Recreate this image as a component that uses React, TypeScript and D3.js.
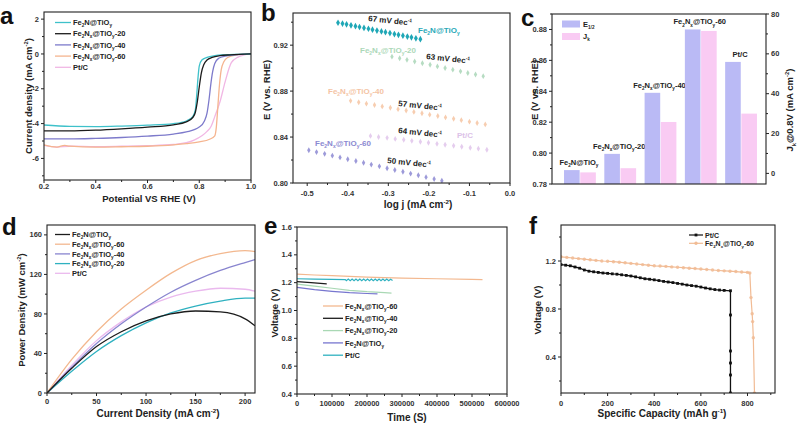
import React from "react";
import * as d3 from "d3";

const FONT = "Arial, 'Liberation Sans', Helvetica, sans-serif";

// ---------- panel a : LSV curves (potential V vs RHE, current density mA cm-2)
const lsvNames = ["Fe_2N@TiO_y", "Fe_2N_x@TiO_y-20", "Fe_2N_x@TiO_y-40", "Fe_2N_x@TiO_y-60", "Pt/C"];
const lsvColors = ["#3ec1ca", "#1c1c1c", "#7d7acb", "#f5b48f", "#f1b7e4"];
const lsvE_Fe2N = [0.2, 0.3, 0.4, 0.5, 0.6, 0.7, 0.75, 0.775, 0.785, 0.79, 0.795, 0.8, 0.81, 0.83, 0.86, 0.9, 0.95, 1.0];
const lsvJ_Fe2N = [-4.08, -4.16, -4.17, -4.14, -4.09, -4.0, -3.85, -3.6, -3.2, -2.4, -1.4, -0.7, -0.35, -0.2, -0.1, -0.05, -0.02, 0];
const lsvE_20 = [0.2, 0.3, 0.4, 0.5, 0.6, 0.7, 0.75, 0.775, 0.785, 0.792, 0.8, 0.808, 0.818, 0.83, 0.85, 0.88, 0.92, 1.0];
const lsvJ_20 = [-4.42, -4.42, -4.38, -4.3, -4.2, -4.07, -3.9, -3.65, -3.35, -2.8, -1.9, -1.1, -0.6, -0.35, -0.2, -0.1, -0.05, 0];
const lsvE_40 = [0.2, 0.3, 0.4, 0.5, 0.6, 0.7, 0.75, 0.8, 0.82, 0.83, 0.838, 0.845, 0.852, 0.86, 0.875, 0.9, 0.94, 1.0];
const lsvJ_40 = [-4.88, -4.88, -4.85, -4.8, -4.72, -4.6, -4.48, -4.2, -3.85, -3.4, -2.6, -1.7, -1.0, -0.55, -0.25, -0.12, -0.05, 0];
const lsvE_60 = [0.2, 0.25, 0.28, 0.3, 0.4, 0.5, 0.6, 0.7, 0.75, 0.8, 0.84, 0.86, 0.866, 0.872, 0.878, 0.885, 0.895, 0.91, 0.94, 1.0];
const lsvJ_60 = [-5.22, -5.35, -5.25, -5.3, -5.35, -5.33, -5.3, -5.22, -5.15, -5.05, -4.9, -4.7, -4.2, -3.0, -1.8, -0.9, -0.45, -0.2, -0.07, 0];
const lsvE_Pt = [0.2, 0.25, 0.3, 0.4, 0.5, 0.6, 0.7, 0.75, 0.78, 0.81, 0.83, 0.846, 0.86, 0.881, 0.9, 0.924, 0.95, 0.97, 1.0];
const lsvJ_Pt = [-5.25, -5.35, -5.3, -5.32, -5.3, -5.27, -5.2, -5.1, -4.95, -4.7, -4.45, -4.15, -3.6, -2.7, -1.6, -0.5, -0.18, -0.07, 0];

// ---------- panel b : Tafel points (log j, E)
const tafLogJ_Fe2N = [-0.424, -0.413, -0.403, -0.392, -0.381, -0.371, -0.36, -0.349, -0.339, -0.328, -0.317, -0.307, -0.296, -0.285, -0.275, -0.264, -0.253, -0.243, -0.232, -0.221];
const tafE_Fe2N = [0.9395, 0.9388, 0.9381, 0.9373, 0.9365, 0.9358, 0.935, 0.9343, 0.9335, 0.9327, 0.932, 0.9313, 0.9305, 0.9297, 0.929, 0.9283, 0.9275, 0.9268, 0.926, 0.9252];
const tafLogJ_20 = [-0.291, -0.272, -0.254, -0.235, -0.216, -0.197, -0.179, -0.16, -0.141, -0.122, -0.104, -0.085, -0.066];
const tafE_20 = [0.91, 0.9086, 0.9072, 0.9058, 0.9043, 0.9029, 0.9015, 0.9001, 0.8987, 0.8972, 0.8958, 0.8944, 0.893];
const tafLogJ_40 = [-0.393, -0.373, -0.354, -0.334, -0.315, -0.295, -0.276, -0.256, -0.237, -0.217, -0.198, -0.178, -0.159, -0.139, -0.12, -0.1, -0.081, -0.061];
const tafE_40 = [0.8715, 0.8703, 0.8691, 0.8679, 0.8667, 0.8655, 0.8643, 0.8631, 0.8619, 0.8607, 0.8595, 0.8583, 0.8571, 0.8559, 0.8547, 0.8534, 0.8522, 0.851];
const tafLogJ_Pt = [-0.344, -0.324, -0.303, -0.283, -0.262, -0.242, -0.221, -0.201, -0.18, -0.16, -0.139, -0.119, -0.098, -0.078, -0.057];
const tafE_Pt = [0.841, 0.8401, 0.8393, 0.8384, 0.8376, 0.8367, 0.8359, 0.835, 0.8341, 0.8333, 0.8324, 0.8316, 0.8307, 0.8299, 0.829];
const tafLogJ_60 = [-0.496, -0.477, -0.457, -0.438, -0.419, -0.4, -0.38, -0.361, -0.342, -0.322, -0.303, -0.284, -0.264, -0.245, -0.226, -0.207, -0.187, -0.168];
const tafE_60 = [0.8285, 0.8269, 0.8254, 0.8238, 0.8223, 0.8207, 0.8191, 0.8176, 0.816, 0.8145, 0.8129, 0.8113, 0.8098, 0.8082, 0.8067, 0.8051, 0.8035, 0.802];
const tafColors = ["#1fa7b6", "#b6dcc2", "#f7cdb0", "#e5cdee", "#9d9ad9"];

// ---------- panel c : bars
const barCats = ["Fe_2N@TiO_y", "Fe_2N_x@TiO_y-20", "Fe_2N_x@TiO_y-40", "Fe_2N_x@TiO_y-60", "Pt/C"];
const barE12 = [0.789, 0.7995, 0.839, 0.88, 0.859];
const barJk = [0.5, 2.6, 25.8, 71.5, 30];

// ---------- panel d : power density
const pdCurrent = [0, 25, 50, 75, 100, 125, 150, 175, 200, 210];
const pdNames = ["Fe_2N@TiO_y", "Fe_2N_x@TiO_y-60", "Fe_2N_x@TiO_y-40", "Fe_2N_x@TiO_y-20", "Pt/C"];
const pdColors = ["#1c1c1c", "#f3b88f", "#8985cf", "#2fb1c0", "#eab9ee"];
const pdFe2N = [0, 25, 47, 62, 73, 80, 83, 82, 75, 68];
const pd60 = [0, 34, 62, 85, 104, 121, 134, 141, 144, 143];
const pd40 = [0, 26, 50, 70, 87, 102, 114, 124, 132, 135];
const pd20 = [0, 22, 42, 58, 71, 81, 88, 93, 96, 96];
const pdPt = [0, 28, 53, 72, 87, 97, 103, 106, 105, 103];

// ---------- panel e : stability (time s, voltage V)
const stNames = ["Fe_2N_x@TiO_y-60", "Fe_2N_x@TiO_y-40", "Fe_2N_x@TiO_y-20", "Fe_2N@TiO_y", "Pt/C"];
const stColors = ["#f3b88f", "#1c1c1c", "#a9d8b4", "#7776cf", "#2fb1c0"];
const stT_60 = [0, 50000, 100000, 150000, 200000, 300000, 400000, 500000, 530000];
const stV_60 = [1.262, 1.255, 1.25, 1.245, 1.24, 1.233, 1.228, 1.223, 1.222];
const stT_40 = [0, 40000, 85000];
const stV_40 = [1.207, 1.2, 1.192];
const stT_20 = [0, 50000, 100000, 150000, 200000, 250000, 270000];
const stV_20 = [1.19, 1.175, 1.16, 1.145, 1.135, 1.128, 1.125];
const stT_Fe2N = [0, 50000, 100000, 150000, 200000, 230000];
const stV_Fe2N = [1.166, 1.15, 1.138, 1.128, 1.122, 1.12];
const stT_Pt = [0, 50000, 100000, 138000, 141000, 146500, 152000, 157500, 163000, 168500, 174000, 179500, 185000, 190500, 196000, 201500, 207000, 212500, 218000, 223500, 229000, 234500, 240000, 245500, 251000, 256500, 262000, 267500, 273000];
const stV_Pt = [1.228, 1.225, 1.224, 1.222, 1.214, 1.226, 1.214, 1.226, 1.214, 1.226, 1.214, 1.226, 1.214, 1.226, 1.214, 1.226, 1.214, 1.226, 1.214, 1.226, 1.214, 1.226, 1.214, 1.226, 1.214, 1.226, 1.214, 1.225, 1.216];

// ---------- panel f : discharge (capacity mAh g-1, voltage V)
const dcCap_Pt = [0, 20, 40, 60, 80, 100, 120, 140, 160, 180, 200, 220, 240, 260, 280, 300, 320, 340, 360, 380, 400, 420, 440, 460, 480, 500, 520, 540, 560, 580, 600, 620, 640, 660, 680, 700, 727, 727, 727, 727, 727, 727];
const dcV_Pt = [1.17, 1.165, 1.16, 1.15, 1.14, 1.125, 1.115, 1.11, 1.105, 1.1, 1.097, 1.093, 1.09, 1.085, 1.08, 1.075, 1.068, 1.06, 1.052, 1.048, 1.043, 1.037, 1.03, 1.025, 1.02, 1.013, 1.007, 1.0, 0.995, 0.99, 0.983, 0.975, 0.968, 0.962, 0.958, 0.955, 0.952, 0.75, 0.45, 0.35, 0.25, 0.1];
const dcCap_60 = [0, 25, 50, 75, 100, 125, 150, 175, 200, 225, 250, 275, 300, 325, 350, 375, 400, 425, 450, 475, 500, 525, 550, 575, 600, 625, 650, 675, 700, 725, 750, 775, 800, 810, 815, 820, 822, 825, 830];
const dcV_60 = [1.235, 1.23, 1.225, 1.22, 1.215, 1.21, 1.205, 1.2, 1.198, 1.194, 1.19, 1.185, 1.18, 1.175, 1.17, 1.165, 1.16, 1.158, 1.155, 1.151, 1.148, 1.144, 1.14, 1.137, 1.133, 1.129, 1.125, 1.121, 1.118, 1.115, 1.112, 1.108, 1.105, 1.1, 0.895, 0.76, 0.695, 0.56, 0.1];
const dcNames = ["Pt/C", "Fe_2N_x@TiO_y-60"];
const dcColors = ["#111111", "#f1bb94"];

const zip = (a: number[], b: number[]): [number, number][] => a.map((v, i) => [v, b[i]]);

// text with _x / _{..} subscripts and ^{..} superscripts
function rich(s: string, fs: number) {
  const segs: { t: string; k: number }[] = [];
  let buf = "";
  let i = 0;
  while (i < s.length) {
    const c = s[i];
    if ((c === "_" || c === "^") && i + 1 < s.length) {
      if (buf) segs.push({ t: buf, k: 0 });
      buf = "";
      let t: string;
      if (s[i + 1] === "{") {
        const j = s.indexOf("}", i);
        t = s.slice(i + 2, j);
        i = j + 1;
      } else {
        t = s[i + 1];
        i += 2;
      }
      segs.push({ t, k: c === "_" ? 1 : -1 });
    } else {
      buf += c;
      i++;
    }
  }
  if (buf) segs.push({ t: buf, k: 0 });
  let cur = 0;
  return segs.map((g, idx) => {
    const target = g.k === 1 ? fs * 0.28 : g.k === -1 ? -fs * 0.4 : 0;
    const dy = target - cur;
    cur = target;
    return (
      <tspan key={idx} dy={dy} fontSize={g.k ? fs * 0.62 : fs}>
        {g.t}
      </tspan>
    );
  });
}

type Rect = { l: number; r: number; t: number; b: number };

interface AxesProps {
  rect: Rect;
  x?: (v: number) => number;
  y: (v: number) => number;
  xTicks?: number[];
  xMinor?: number[];
  yTicks: number[];
  yMinor: number[];
  fx?: (v: number) => string;
  fy: (v: number) => string;
  xLab?: number;
}

const Axes: React.FC<AxesProps> = ({ rect, x, y, xTicks = [], xMinor = [], yTicks, yMinor, fx, fy, xLab = 10 }) => (
  <g fontFamily={FONT} fontWeight="bold" fill="#333">
    {x &&
      xTicks.map((v) => (
        <g key={"xt" + v}>
          <line x1={x(v)} x2={x(v)} y1={rect.b} y2={rect.b + 3} stroke="#222" />
          <text x={x(v)} y={rect.b + xLab} textAnchor="middle" fontSize={7.5}>
            {fx ? fx(v) : v}
          </text>
        </g>
      ))}
    {x &&
      xMinor.map((v) => <line key={"xm" + v} x1={x(v)} x2={x(v)} y1={rect.b} y2={rect.b + 2} stroke="#222" />)}
    {yTicks.map((v) => (
      <g key={"yt" + v}>
        <line x1={rect.l - 3} x2={rect.l} y1={y(v)} y2={y(v)} stroke="#222" />
        <text x={rect.l - 5} y={y(v) + 2.6} textAnchor="end" fontSize={7.5}>
          {fy(v)}
        </text>
      </g>
    ))}
    {yMinor.map((v) => (
      <line key={"ym" + v} x1={rect.l - 2} x2={rect.l} y1={y(v)} y2={y(v)} stroke="#222" />
    ))}
    <rect x={rect.l} y={rect.t} width={rect.r - rect.l} height={rect.b - rect.t} fill="none" stroke="#222" strokeWidth={1.1} />
  </g>
);

const Title: React.FC<{ x: number; y: number; s: string; rot?: boolean; fs?: number }> = ({ x, y, s, rot, fs = 9.5 }) => (
  <text
    x={x}
    y={y}
    textAnchor="middle"
    fontFamily={FONT}
    fontWeight="bold"
    fontSize={fs}
    fill="#222"
    transform={rot ? `rotate(-90 ${x} ${y})` : undefined}
  >
    {rich(s, fs)}
  </text>
);

const Letter: React.FC<{ x: number; y: number; s: string }> = ({ x, y, s }) => (
  <text x={x} y={y} fontFamily={FONT} fontWeight="bold" fontSize={24} fill="#111">
    {s}
  </text>
);

const f1 = (v: number) => v.toFixed(1);
const f2 = (v: number) => v.toFixed(2);
const f0 = (v: number) => v.toFixed(0);

export default function App() {
  // ---------------- a
  const aR: Rect = { l: 44, r: 251, t: 12, b: 180 };
  const ax = d3.scaleLinear().domain([0.2, 1.0]).range([aR.l, aR.r]);
  const ay = d3.scaleLinear().domain([-7.24, 2.41]).range([aR.b, aR.t]);
  const aLine = d3
    .line<[number, number]>()
    .x((d) => ax(d[0]))
    .y((d) => ay(d[1]))
    .curve(d3.curveMonotoneX);
  const aSeries = [
    zip(lsvE_Fe2N, lsvJ_Fe2N),
    zip(lsvE_20, lsvJ_20),
    zip(lsvE_40, lsvJ_40),
    zip(lsvE_60, lsvJ_60),
    zip(lsvE_Pt, lsvJ_Pt),
  ];
  const aDraw = [4, 3, 2, 0, 1];

  // ---------------- b
  const bR: Rect = { l: 293, r: 510, t: 13, b: 183 };
  const bx = d3.scaleLinear().domain([-0.535, 0]).range([bR.l, bR.r]);
  const by = d3.scaleLinear().domain([0.8, 0.948]).range([bR.b, bR.t]);
  const bSeries = [
    zip(tafLogJ_Fe2N, tafE_Fe2N),
    zip(tafLogJ_20, tafE_20),
    zip(tafLogJ_40, tafE_40),
    zip(tafLogJ_Pt, tafE_Pt),
    zip(tafLogJ_60, tafE_60),
  ];
  const diamond = d3.symbol().type(d3.symbolDiamond);

  // ---------------- c
  const cR: Rect = { l: 552, r: 766, t: 14, b: 184 };
  const cx = d3.scaleBand<string>().domain(barCats).range([560, 761]).paddingInner(0.21).paddingOuter(0.1);
  const cyL = d3.scaleLinear().domain([0.78, 0.89]).range([cR.b, cR.t]);
  const cyR = d3.scaleLinear().domain([-5.33, 80]).range([cR.b, cR.t]);
  const bw = (cx.bandwidth() - 0.6) / 2;

  // ---------------- d
  const dR: Rect = { l: 47, r: 255, t: 225, b: 393 };
  const dx = d3.scaleLinear().domain([0, 210]).range([dR.l, dR.r]);
  const dy = d3.scaleLinear().domain([0, 170]).range([dR.b, dR.t]);
  const dLine = d3
    .line<[number, number]>()
    .x((d) => dx(d[0]))
    .y((d) => dy(d[1]))
    .curve(d3.curveMonotoneX);
  const dSeries = [pdFe2N, pd60, pd40, pd20, pdPt].map((s) => zip(pdCurrent, s));

  // ---------------- e
  const eR: Rect = { l: 297, r: 507, t: 227, b: 394 };
  const ex = d3.scaleLinear().domain([0, 600000]).range([eR.l, eR.r]);
  const ey = d3.scaleLinear().domain([0.4, 1.6]).range([eR.b, eR.t]);
  const eLine = d3
    .line<[number, number]>()
    .x((d) => ex(d[0]))
    .y((d) => ey(d[1]));
  const eSeries = [
    zip(stT_60, stV_60),
    zip(stT_40, stV_40),
    zip(stT_20, stV_20),
    zip(stT_Fe2N, stV_Fe2N),
    zip(stT_Pt, stV_Pt),
  ];

  // ---------------- f
  const fR: Rect = { l: 561, r: 775, t: 225, b: 393 };
  const fx = d3.scaleLinear().domain([0, 918]).range([fR.l, fR.r]);
  const fy = d3.scaleLinear().domain([0.1, 1.5]).range([fR.b, fR.t]);
  const fLine = d3
    .line<[number, number]>()
    .x((d) => fx(d[0]))
    .y((d) => fy(d[1]));
  const fPt = zip(dcCap_Pt, dcV_Pt);
  const f60 = zip(dcCap_60, dcV_60);

  const clip = (id: string, r: Rect) => (
    <clipPath id={id}>
      <rect x={r.l} y={r.t} width={r.r - r.l} height={r.b - r.t} />
    </clipPath>
  );

  const legendText = (x: number, y: number, s: string, fs = 7.5) => (
    <text x={x} y={y + 2.6} fontFamily={FONT} fontWeight="bold" fontSize={fs} fill="#222">
      {rich(s, fs)}
    </text>
  );

  return (
    <div style={{ position: "absolute", left: 0, top: 0 }}>
      <svg width={800} height={425} style={{ display: "block" }}>
        <defs>
          {clip("ca", aR)}
          {clip("cb", bR)}
          {clip("cd", dR)}
          {clip("ce", eR)}
          {clip("cf", fR)}
        </defs>
        <rect width={800} height={425} fill="#fff" />

        {/* ===== a ===== */}
        <g clipPath="url(#ca)">
          {aDraw.map((i) => (
            <path key={i} d={aLine(aSeries[i]) || ""} fill="none" stroke={lsvColors[i]} strokeWidth={1.3} />
          ))}
        </g>
        <Axes
          rect={aR}
          x={ax}
          y={ay}
          xTicks={[0.2, 0.4, 0.6, 0.8, 1.0]}
          xMinor={[0.3, 0.5, 0.7, 0.9]}
          yTicks={[-6, -4, -2, 0, 2]}
          yMinor={[-7, -5, -3, -1, 1]}
          fx={f1}
          fy={f0}
          xLab={8.5}
        />
        {lsvNames.map((n, i) => (
          <g key={n}>
            <line x1={55} x2={71} y1={22.5 + i * 11.2} y2={22.5 + i * 11.2} stroke={lsvColors[i]} strokeWidth={1.3} />
            {legendText(73, 22.5 + i * 11.2, n)}
          </g>
        ))}
        <Title x={149} y={202} s="Potential VS RHE (V)" />
        <Title x={32} y={96} s="Current density (mA cm^{-2})" rot />
        <Letter x={0} y={24} s="a" />

        {/* ===== b ===== */}
        <g clipPath="url(#cb)">
          {bSeries.map((s, i) =>
            s.map((p, k) => (
              <path
                key={i + "-" + k}
                d={diamond.size(i === 0 ? 13 : 10)() || ""}
                transform={`translate(${bx(p[0])},${by(p[1])})`}
                fill={tafColors[i]}
              />
            ))
          )}
        </g>
        <Axes
          rect={bR}
          x={bx}
          y={by}
          xTicks={[-0.5, -0.4, -0.3, -0.2, -0.1, 0]}
          xMinor={[-0.45, -0.35, -0.25, -0.15, -0.05]}
          yTicks={[0.8, 0.84, 0.88, 0.92]}
          yMinor={[0.82, 0.86, 0.9, 0.94]}
          fx={f1}
          fy={f2}
          xLab={12.5}
        />
        <g fontFamily={FONT} fontWeight="bold" fontSize={8}>
          <text x={368} y={21} fill="#222" transform="rotate(6 368 21)">{rich("67 mV dec^{-1}", 8)}</text>
          <text x={418} y={33} fill="#2aa9b8">{rich("Fe_2N@TiO_y", 8)}</text>
          <text x={360} y={53} fill="#acd8b8">{rich("Fe_2N_x@TiO_y-20", 8)}</text>
          <text x={426} y={59} fill="#222" transform="rotate(6 426 59)">{rich("63 mV dec^{-1}", 8)}</text>
          <text x={328} y={94} fill="#f4c4a4">{rich("Fe_2N_x@TiO_y-40", 8)}</text>
          <text x={398} y={106} fill="#222" transform="rotate(6 398 106)">{rich("57 mV dec^{-1}", 8)}</text>
          <text x={398} y={133} fill="#222" transform="rotate(6 398 133)">{rich("64 mV dec^{-1}", 8)}</text>
          <text x={457} y={138} fill="#dcc2e8">{rich("Pt/C", 8)}</text>
          <text x={315} y={146} fill="#8b89d1">{rich("Fe_2N_x@TiO_y-60", 8)}</text>
          <text x={387} y={163} fill="#222" transform="rotate(6 387 163)">{rich("50 mV dec^{-1}", 8)}</text>
        </g>
        <Title x={418} y={208} s="log j (mA cm^{-2})" fs={10} />
        <Title x={270} y={90} s="E (V vs. RHE)" rot />
        <Letter x={261} y={21} s="b" />

        {/* ===== c ===== */}
        {barCats.map((c, i) => {
          const x0 = cx(c) as number;
          return (
            <g key={c}>
              <rect x={x0} y={cyL(barE12[i])} width={bw} height={cR.b - cyL(barE12[i])} fill="#babaf5" />
              <rect x={x0 + bw + 0.6} y={cyR(barJk[i])} width={bw} height={cR.b - cyR(barJk[i])} fill="#f9cbf3" />
              <text
                x={x0 + cx.bandwidth() / 2 - 1}
                y={cyL(barE12[i]) - 5}
                textAnchor="middle"
                fontFamily={FONT}
                fontWeight="bold"
                fontSize={7.5}
                fill="#222"
              >
                {rich(c, 7.5)}
              </text>
            </g>
          );
        })}
        <Axes
          rect={cR}
          y={cyL}
          yTicks={[0.78, 0.8, 0.82, 0.84, 0.86, 0.88]}
          yMinor={[0.79, 0.81, 0.83, 0.85, 0.87, 0.89]}
          fy={f2}
        />
        <g fontFamily={FONT} fontWeight="bold" fill="#333">
          {[0, 20, 40, 60, 80].map((v) => (
            <g key={v}>
              <line x1={cR.r} x2={cR.r + 3} y1={cyR(v)} y2={cyR(v)} stroke="#222" />
              <text x={cR.r + 5} y={cyR(v) + 2.6} fontSize={7.5}>
                {v}
              </text>
            </g>
          ))}
          {[10, 30, 50, 70].map((v) => (
            <line key={v} x1={cR.r} x2={cR.r + 2} y1={cyR(v)} y2={cyR(v)} stroke="#222" />
          ))}
        </g>
        <rect x={562} y={20.5} width={18} height={7} fill="#babaf5" />
        <rect x={562} y={33} width={18} height={7} fill="#f9cbf3" />
        {legendText(583, 24, "E_{1/2}")}
        {legendText(583, 36.5, "J_k")}
        <Title x={538} y={90} s="E (V vs. RHE)" rot />
        <Title x={793} y={110} s="J_k@0.8V (mA cm^{-2})" rot />
        <Letter x={521} y={26} s="c" />

        {/* ===== d ===== */}
        <g clipPath="url(#cd)">
          {[4, 3, 2, 1, 0].map((i) => (
            <path key={i} d={dLine(dSeries[i]) || ""} fill="none" stroke={pdColors[i]} strokeWidth={1.3} />
          ))}
        </g>
        <Axes
          rect={dR}
          x={dx}
          y={dy}
          xTicks={[0, 50, 100, 150, 200]}
          xMinor={[25, 75, 125, 175]}
          yTicks={[0, 40, 80, 120, 160]}
          yMinor={[20, 60, 100, 140]}
          fx={f0}
          fy={f0}
          xLab={11}
        />
        {pdNames.map((n, i) => (
          <g key={n}>
            <line x1={55} x2={70} y1={234.5 + i * 9.7} y2={234.5 + i * 9.7} stroke={pdColors[i]} strokeWidth={1.3} />
            {legendText(72, 234.5 + i * 9.7, n)}
          </g>
        ))}
        <Title x={158} y={417} s="Current Density (mA cm^{-2})" fs={10} />
        <Title x={25} y={310} s="Power Density (mW cm^{-2})" rot />
        <Letter x={2} y={235} s="d" />

        {/* ===== e ===== */}
        <g clipPath="url(#ce)">
          {eSeries.map((s, i) => (
            <path key={i} d={eLine(s) || ""} fill="none" stroke={stColors[i]} strokeWidth={1.2} />
          ))}
        </g>
        <Axes
          rect={eR}
          x={ex}
          y={ey}
          xTicks={[0, 100000, 200000, 300000, 400000, 500000, 600000]}
          xMinor={[50000, 150000, 250000, 350000, 450000, 550000]}
          yTicks={[0.4, 0.6, 0.8, 1.0, 1.2, 1.4, 1.6]}
          yMinor={[0.5, 0.7, 0.9, 1.1, 1.3, 1.5]}
          fx={f0}
          fy={f1}
          xLab={11.5}
        />
        {stNames.map((n, i) => (
          <g key={n}>
            <line x1={323} x2={343} y1={306 + i * 12.3} y2={306 + i * 12.3} stroke={stColors[i]} strokeWidth={1.3} />
            {legendText(345, 306 + i * 12.3, n)}
          </g>
        ))}
        <Title x={407} y={421} s="Time (S)" fs={10} />
        <Title x={278} y={313} s="Voltage (V)" rot />
        <Letter x={264} y={234} s="e" />

        {/* ===== f ===== */}
        <g clipPath="url(#cf)">
          <path d={fLine(f60) || ""} fill="none" stroke={dcColors[1]} strokeWidth={1.2} />
          {f60.map((p, k) => (
            <circle key={k} cx={fx(p[0])} cy={fy(p[1])} r={1.7} fill={dcColors[1]} opacity={0.85} />
          ))}
          <path d={fLine(fPt) || ""} fill="none" stroke={dcColors[0]} strokeWidth={1.3} />
          {fPt.map((p, k) => (
            <rect key={k} x={fx(p[0]) - 1.4} y={fy(p[1]) - 1.4} width={2.8} height={2.8} fill={dcColors[0]} />
          ))}
        </g>
        <Axes
          rect={fR}
          x={fx}
          y={fy}
          xTicks={[0, 200, 400, 600, 800]}
          xMinor={[100, 300, 500, 700, 900]}
          yTicks={[0.4, 0.8, 1.2]}
          yMinor={[0.2, 0.6, 1.0, 1.4]}
          fx={f0}
          fy={f1}
          xLab={12.5}
        />
        {dcNames.map((n, i) => (
          <g key={n}>
            <line x1={689} x2={703} y1={235 + i * 8.3} y2={235 + i * 8.3} stroke={dcColors[i]} strokeWidth={1.2} />
            {i === 0 ? (
              <rect x={694.6} y={233.6} width={2.8} height={2.8} fill={dcColors[0]} />
            ) : (
              <circle cx={696} cy={243.3} r={1.7} fill={dcColors[1]} />
            )}
            {legendText(705, 235 + i * 8.3, n, 7)}
          </g>
        ))}
        <Title x={662} y={417} s="Specific Capacity (mAh g^{-1})" fs={10} />
        <Title x={541} y={310} s="Voltage (V)" rot />
        <Letter x={529} y={234} s="f" />
      </svg>
    </div>
  );
}
